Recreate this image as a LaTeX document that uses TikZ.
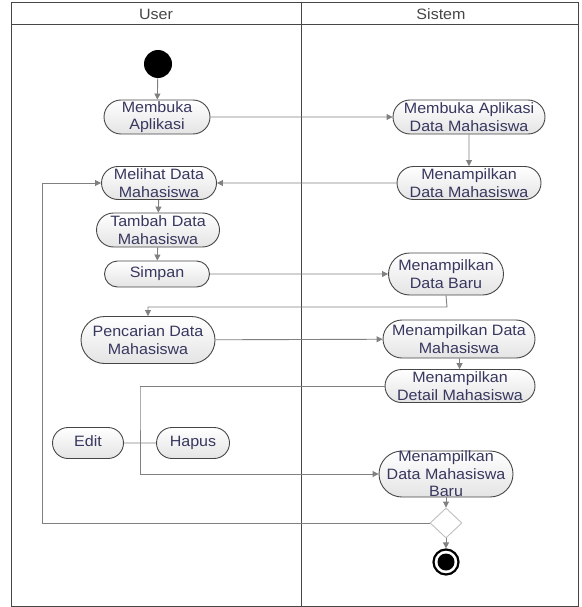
\documentclass[tikz,border=0pt]{standalone}
\usepackage{fontspec}
\setmainfont{Liberation Sans}[FakeStretch=1.07]
\usetikzlibrary{shapes.misc,shapes.geometric,arrows.meta}
\definecolor{framec}{RGB}{70,70,70}
\definecolor{linec}{RGB}{128,128,128}
\definecolor{boxc}{RGB}{70,70,70}
\definecolor{txtc}{RGB}{55,55,95}
\definecolor{fillbot}{RGB}{228,228,228}
\begin{document}
\begin{tikzpicture}[x=1pt,y=-1pt,
  act/.style={rounded rectangle, draw=boxc, line width=0.9pt, top color=white, bottom color=fillbot,
    inner sep=0pt, align=center, font=\fontsize{15}{17.5}\selectfont, text=txtc},
  txt/.style={inner sep=0pt, align=center, font=\fontsize{15}{17.5}\selectfont, text=txtc},
  conn/.style={draw=linec, line width=0.9pt},
  arr/.style={conn, -{Triangle[width=6pt,length=6pt]}},
  hdr/.style={font=\fontsize{15}{17}\selectfont, text=framec, inner sep=0pt}
]
\useasboundingbox (0,0) rectangle (581,607);
% swimlanes
\draw[framec, line width=1pt] (11,3) rectangle (578,606);
\draw[framec, line width=1pt] (11,25) -- (578,25);
\draw[framec, line width=1pt] (301,3) -- (301,606);
\node[hdr] (huser) at (156,14) {User};
\node[hdr] (hsis) at (441,14) {Sistem};

% nodes
\node[circle, fill=black, minimum size=28pt, inner sep=0pt] (start) at (158,64) {};
\node[act, minimum width=106pt, minimum height=34pt] (u1) at (157,117) {Membuka\\Aplikasi};
\node[act, minimum width=152pt, minimum height=34pt] (s1) at (469,117) {Membuka Aplikasi\\Data Mahasiswa};
\node[act, minimum width=144pt, minimum height=33pt] (s2) at (469,183) {Menampilkan\\Data Mahasiswa};
\node[act, minimum width=115pt, minimum height=33pt] (u2) at (159,183) {Melihat Data\\Mahasiswa};
\node[act, minimum width=123pt, minimum height=34pt] (u3) at (158,230) {Tambah Data\\Mahasiswa};
\node[act, minimum width=105pt, minimum height=26pt] (u4) at (157,274) {Simpan};
\node[act, minimum width=115pt, minimum height=42pt] (s3) at (446,274) {Menampilkan\\Data Baru};
\node[act, minimum width=134pt, minimum height=47pt] (u5) at (148,340) {Pencarian Data\\Mahasiswa};
\node[act, minimum width=152pt, minimum height=38pt] (s4) at (459,339) {Menampilkan Data\\Mahasiswa};
\node[act, minimum width=150pt, minimum height=33pt] (s5) at (460,386) {Menampilkan\\Detail Mahasiswa};
\node[act, minimum width=71pt, minimum height=31pt] (edit) at (88,443) {Edit\vphantom{p}};
\node[act, minimum width=73pt, minimum height=31pt] (hapus) at (193,443) {Hapus};
\node[act, minimum width=134pt, minimum height=46pt] (s6) at (446,474) {};
\node[txt] (s6t) at (446,474) {Menampilkan\\Data Mahasiswa\\Baru};
\node[diamond, draw=black!25, fill=white, line width=0.9pt, minimum width=32pt, minimum height=30pt, inner sep=0pt] (dec) at (446,523) {};
\node[circle, draw=black, line width=2.2pt, fill=white, minimum size=25pt, inner sep=0pt] (endc) at (446,562) {};
\node[circle, fill=black, minimum size=17pt, inner sep=0pt] (endi) at (446,562) {};

% bend coordinates
\coordinate (b1) at (447,307);
\coordinate (b2) at (140,387);
\coordinate (b3) at (140,474);
\coordinate (b4) at (42,523);

% connectors
\draw[arr] (start) -- (u1);
\draw[arr] (u1) -- (s1);
\draw[arr] (s1) -- (s2);
\draw[arr] (s2) -- (u2);
\draw[arr] (u2) -- (u3);
\draw[arr] (u3) -- (u4);
\draw[arr] (u4) -- (s3);
\draw[arr] (s3.south) -- (b1) -| (u5.north);
\draw[arr] (u5) -- (s4);
\draw[arr] (s4) -- (s5);
\draw[arr] (s5.west) -| (b2) -- (b3) -- (s6.west);
\draw[conn] (edit) -- (hapus);
\draw[arr] (s6) -- (dec);
\draw[arr] (dec) -- (endc);
\draw[arr] (dec.west) -- (b4) |- (u2.west);
\end{tikzpicture}
\end{document}
